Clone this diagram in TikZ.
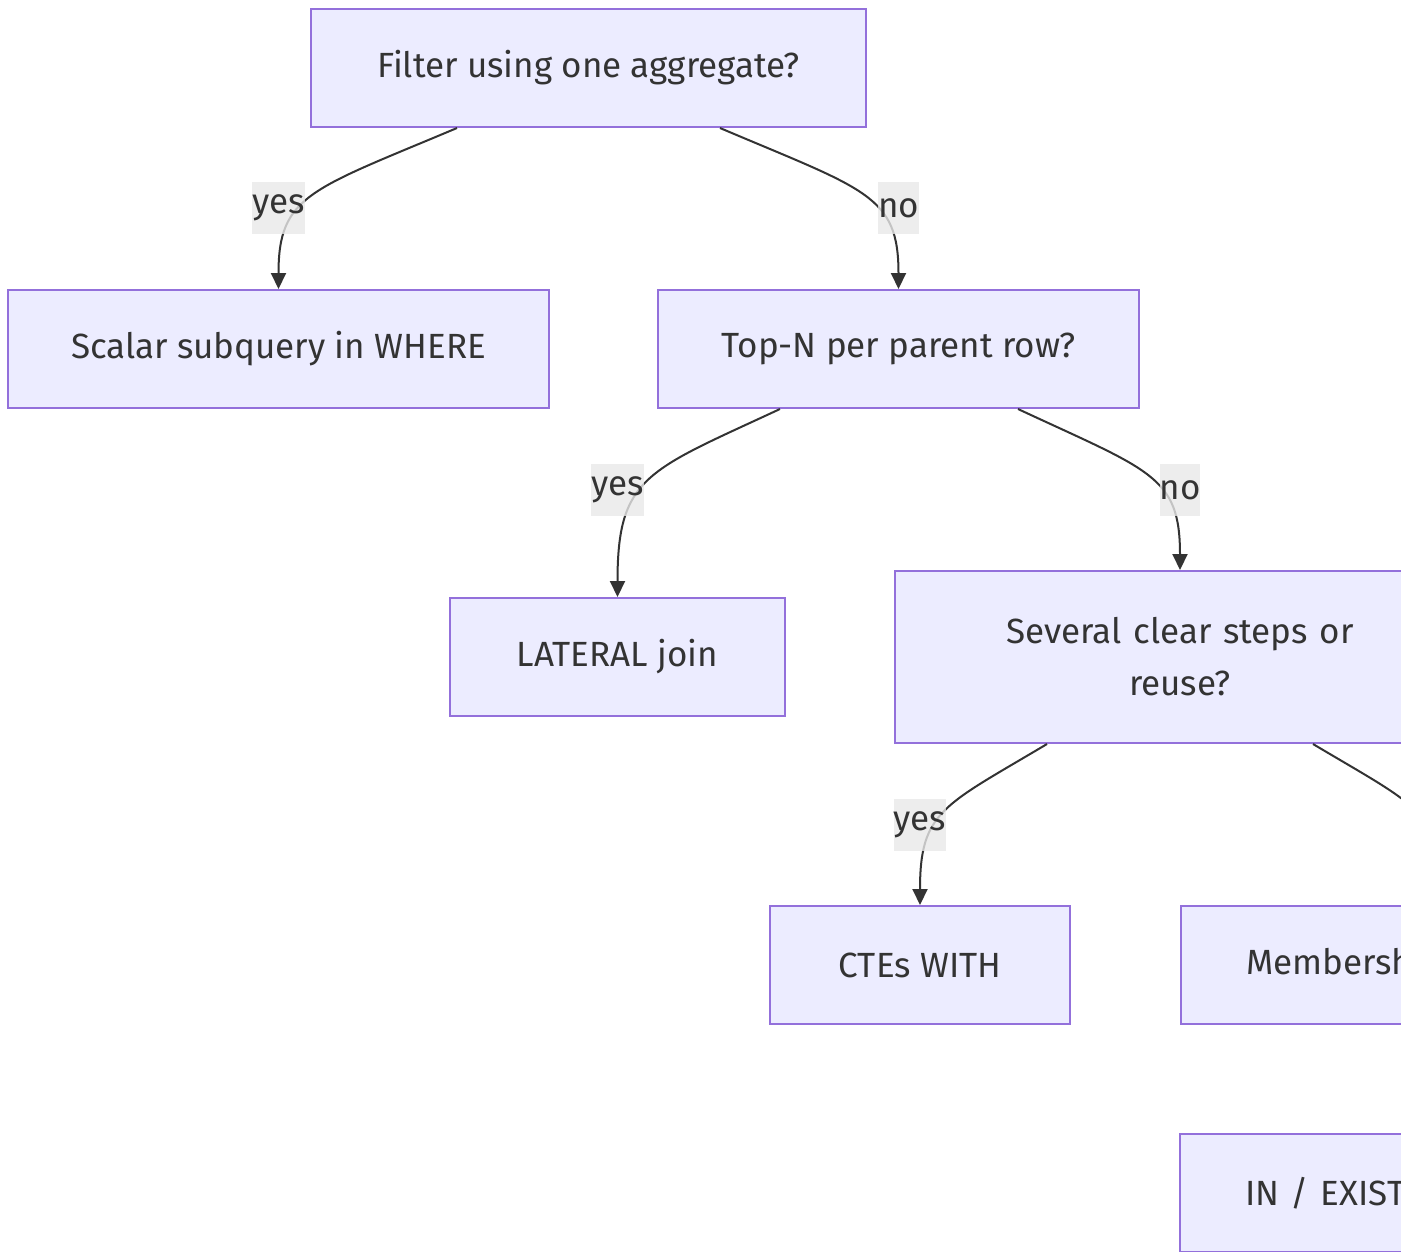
\documentclass[tikz,border=0pt]{standalone}
\usepackage{fontspec}
\setmainfont{Fira Sans}
\usepackage{tikz}
\usetikzlibrary{arrows.meta}

\definecolor{boxfill}{HTML}{ECECFF}
\definecolor{boxline}{HTML}{9370DB}
\definecolor{ink}{HTML}{333333}
\definecolor{lblfill}{HTML}{E8E8E8}

\begin{document}
\begin{tikzpicture}[x=1pt, y=-1pt,
  font=\fontsize{35}{52}\selectfont, text=ink,
  box/.style={draw=boxline, fill=boxfill, line width=2pt, minimum height=118pt, inner sep=0pt, align=center},
  edge/.style={draw=ink, line width=2pt, -{Triangle[length=16pt, width=15pt]}},
  lbl/.style={fill=lblfill, fill opacity=0.8, text opacity=1, inner sep=0pt, minimum height=52pt}]
\useasboundingbox (0,0) rectangle (1401,1251);
\clip (0,0) rectangle (1401,1251);

% the questions and answers
\node[box, minimum width=555pt] (agg) at (588.5,68) {Filter using one aggregate?};
\node[box, minimum width=541pt] (scalar) at (278.5,349) {Scalar subquery in WHERE};
\node[box, minimum width=481pt] (topn) at (898.5,349) {Top-N per parent row?};
\node[box, minimum width=335pt] (lateral) at (617.5,657) {LATERAL join};
\node[box, minimum width=570pt, minimum height=172pt, text width=420pt] (steps) at (1180,657) {Several clear steps or\\reuse?};
\node[box, minimum width=300pt] (cte) at (920,965) {CTEs WITH};
\node[box, anchor=west, text width=390pt, inner xsep=65pt, align=left] (member) at (1180,965) {Membership};
\node[box, anchor=west, text width=390pt, inner xsep=65pt, align=left] (inexists) at (1179,1193) {IN / EXISTS};

% branches
\draw[edge] ([xshift=-131.5pt]agg.south) .. controls (310,190) and (278.5,195) .. (scalar.north);
\draw[edge] ([xshift=131.5pt]agg.south) .. controls (866,190) and (898.5,195) .. (topn.north);
\draw[edge] ([xshift=-118.5pt]topn.south) .. controls (647,471) and (617.5,476) .. (lateral.north);
\draw[edge] ([xshift=119.5pt]topn.south) .. controls (1151,471) and (1180,476) .. (steps.north);
\draw[edge] ([xshift=-133pt]steps.south) .. controls (943,806) and (920,811) .. (cte.north);
\draw[edge] ([xshift=133pt]steps.south) .. controls (1417,806) and (1440,811) .. (member.north);

\node[lbl] (y1) at (278.5,208) {yes};
\node[lbl] (n1) at (898.5,208) {no};
\node[lbl] (y2) at (617.5,490) {yes};
\node[lbl] (n2) at (1180,490) {no};
\node[lbl] (y3) at (920,825) {yes};
\end{tikzpicture}
\end{document}
